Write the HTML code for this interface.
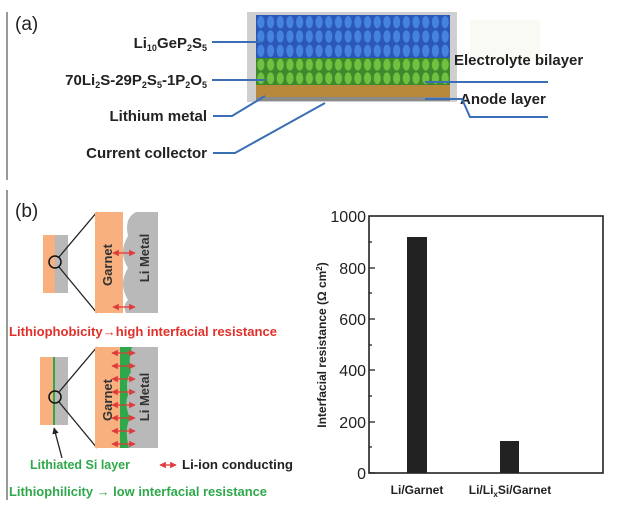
<!DOCTYPE html>
<html><head><meta charset="utf-8"><style>
html,body{margin:0;padding:0;background:#fff;}
svg{display:block;font-family:"Liberation Sans",sans-serif;}
</style></head><body>
<svg width="631" height="514" viewBox="0 0 631 514" xmlns="http://www.w3.org/2000/svg">
<defs>
<pattern id="pb" x="256" y="15" width="9.7" height="14.3" patternUnits="userSpaceOnUse">
<rect width="9.7" height="14.3" fill="#2a57b8"/>
<ellipse cx="4.85" cy="7.15" rx="3.6" ry="6.2" fill="#4682e0"/>
</pattern>
<pattern id="pg" x="256" y="58" width="9.7" height="13.5" patternUnits="userSpaceOnUse">
<rect width="9.7" height="13.5" fill="#3d8a2c"/>
<ellipse cx="4.85" cy="6.75" rx="3.6" ry="5.9" fill="#72c040"/>
</pattern>
<marker id="ah" viewBox="0 0 10 10" refX="9" refY="5" markerWidth="5" markerHeight="5" orient="auto-start-reverse"><path d="M0,0 L10,5 L0,10 z" fill="#e03a3a"/></marker>
<marker id="ak" viewBox="0 0 10 10" refX="9" refY="5" markerWidth="5" markerHeight="5" orient="auto"><path d="M0,0 L10,5 L0,10 z" fill="#222"/></marker>
</defs>

<rect x="6" y="12" width="2" height="168" fill="#999"/>
<rect x="6" y="190" width="2" height="310" fill="#999"/>

<text x="15" y="30" font-size="19" fill="#222">(a)</text>
<rect x="247" y="12" width="210" height="90" fill="#cfcfcf"/>
<rect x="256" y="15" width="194" height="43" fill="url(#pb)"/>
<rect x="256" y="58" width="194" height="27" fill="url(#pg)"/>
<rect x="256" y="85" width="194" height="12" fill="#b8893a"/>
<rect x="256" y="97" width="194" height="4" fill="#8a8a8a"/>
<rect x="470" y="20" width="70" height="40" fill="#fafaf5"/>

<g font-weight="bold" font-size="15" fill="#222" text-anchor="end">
<text x="207" y="48">Li<tspan font-size="9" dy="3">10</tspan><tspan dy="-3">GeP</tspan><tspan font-size="9" dy="3">2</tspan><tspan dy="-3">S</tspan><tspan font-size="9" dy="3">5</tspan></text>
<text x="207" y="85">70Li<tspan font-size="9" dy="3">2</tspan><tspan dy="-3">S-29P</tspan><tspan font-size="9" dy="3">2</tspan><tspan dy="-3">S</tspan><tspan font-size="9" dy="3">5</tspan><tspan dy="-3">-1P</tspan><tspan font-size="9" dy="3">2</tspan><tspan dy="-3">O</tspan><tspan font-size="9" dy="3">5</tspan></text>
<text x="207" y="121">Lithium metal</text>
<text x="207" y="158">Current collector</text>
</g>
<g font-weight="bold" font-size="15" fill="#222">
<text x="454" y="65">Electrolyte bilayer</text>
<text x="460" y="104">Anode layer</text>
</g>
<g stroke="#3a6eb5" stroke-width="2" fill="none">
<line x1="212" y1="42" x2="262" y2="42"/>
<line x1="212" y1="80" x2="265" y2="80"/>
<polyline points="213,116 232,116 265,96"/>
<polyline points="213,153 235,153 325,103"/>
<line x1="425" y1="82" x2="548" y2="82"/>
<polyline points="425,99 462,99 470,117 548,117"/>
</g>

<text x="15" y="217" font-size="19" fill="#222">(b)</text>
<rect x="43" y="235" width="12" height="58" fill="#f7b07e"/>
<rect x="55" y="235" width="13" height="58" fill="#b9b9b9"/>
<circle cx="55" cy="262" r="6" fill="none" stroke="#111" stroke-width="1.5"/>
<line x1="59" y1="257" x2="97" y2="212" stroke="#222" stroke-width="1.3"/>
<line x1="59" y1="267" x2="97" y2="313" stroke="#222" stroke-width="1.3"/>
<rect x="95" y="212" width="28" height="101" fill="#f7b07e"/>
<path d="M158,212 L136,212 Q124,218 128,236 Q118,252 128,268 Q118,284 128,300 Q122,306 126,313 L158,313 Z" fill="#b9b9b9"/>
<text transform="translate(112,265) rotate(-90)" font-size="13" font-weight="bold" fill="#333" text-anchor="middle">Garnet</text>
<text transform="translate(149,258) rotate(-90)" font-size="13" font-weight="bold" fill="#333" text-anchor="middle">Li Metal</text>
<g stroke="#e03a3a" stroke-width="1.3" marker-start="url(#ah)" marker-end="url(#ah)">
<line x1="113" y1="253" x2="135" y2="253"/>
<line x1="113" y1="307" x2="135" y2="307"/>
</g>
<text x="9" y="336" font-size="12.5" font-weight="bold" fill="#e0302a" textLength="268" lengthAdjust="spacingAndGlyphs">Lithiophobicity→high interfacial resistance</text>

<rect x="40" y="357" width="13" height="68" fill="#f7b07e"/>
<rect x="53" y="357" width="2" height="68" fill="#2ea84a"/>
<rect x="55" y="357" width="13" height="68" fill="#b9b9b9"/>
<circle cx="55" cy="397" r="6" fill="none" stroke="#111" stroke-width="1.5"/>
<line x1="59" y1="392" x2="97" y2="347" stroke="#222" stroke-width="1.3"/>
<line x1="59" y1="402" x2="97" y2="448" stroke="#222" stroke-width="1.3"/>
<line x1="62" y1="458" x2="54" y2="428" stroke="#222" stroke-width="1.3" marker-end="url(#ak)"/>
<rect x="95" y="347" width="25" height="101" fill="#f7b07e"/>
<rect x="120" y="347" width="38" height="101" fill="#b9b9b9"/>
<path d="M120,347 L132,347 Q128,360 131,372 Q125,380 128,395 Q124,405 130,418 Q124,430 129,448 L120,448 Z" fill="#2ea84a"/>
<text transform="translate(112,400) rotate(-90)" font-size="13" font-weight="bold" fill="#333" text-anchor="middle">Garnet</text>
<text transform="translate(149,397) rotate(-90)" font-size="13" font-weight="bold" fill="#333" text-anchor="middle">Li Metal</text>
<g stroke="#e03a3a" stroke-width="1.3" marker-start="url(#ah)" marker-end="url(#ah)">
<line x1="112" y1="353" x2="135" y2="353"/>
<line x1="112" y1="366" x2="135" y2="366"/>
<line x1="112" y1="379" x2="135" y2="379"/>
<line x1="112" y1="392" x2="135" y2="392"/>
<line x1="112" y1="405" x2="135" y2="405"/>
<line x1="112" y1="418" x2="135" y2="418"/>
<line x1="112" y1="431" x2="135" y2="431"/>
<line x1="112" y1="444" x2="135" y2="444"/>
<line x1="160" y1="465" x2="176" y2="465"/>
</g>
<text x="30" y="469" font-size="12.5" font-weight="bold" fill="#2ea84a" textLength="100" lengthAdjust="spacingAndGlyphs">Lithiated Si layer</text>
<text x="182" y="469" font-size="12.5" font-weight="bold" fill="#222" textLength="111" lengthAdjust="spacingAndGlyphs">Li-ion conducting</text>
<text x="9" y="496" font-size="12.5" font-weight="bold" fill="#2ea84a" textLength="258" lengthAdjust="spacingAndGlyphs">Lithiophilicity → low interfacial resistance</text>

<rect x="369" y="216" width="234" height="257" fill="none" stroke="#222" stroke-width="1.6"/>
<rect x="407" y="237" width="20" height="236" fill="#222"/>
<rect x="500" y="441" width="19" height="32" fill="#222"/>
<g stroke="#222" stroke-width="1.3">
<line x1="369" y1="473" x2="375" y2="473"/><line x1="369" y1="447" x2="372" y2="447"/>
<line x1="369" y1="422" x2="375" y2="422"/><line x1="369" y1="396" x2="372" y2="396"/>
<line x1="369" y1="370" x2="375" y2="370"/><line x1="369" y1="345" x2="372" y2="345"/>
<line x1="369" y1="319" x2="375" y2="319"/><line x1="369" y1="293" x2="372" y2="293"/>
<line x1="369" y1="268" x2="375" y2="268"/><line x1="369" y1="242" x2="372" y2="242"/>
</g>
<g font-size="16" fill="#222" text-anchor="end">
<text x="366" y="479">0</text>
<text x="366" y="428">200</text>
<text x="366" y="376">400</text>
<text x="366" y="325">600</text>
<text x="366" y="274">800</text>
<text x="366" y="222">1000</text>
</g>
<text transform="translate(326,345) rotate(-90)" font-size="12" font-weight="bold" fill="#222" text-anchor="middle">Interfacial resistance (Ω cm<tspan font-size="8" dy="-4">2</tspan><tspan dy="4">)</tspan></text>
<text x="417" y="494" font-size="12" font-weight="bold" fill="#222" text-anchor="middle">Li/Garnet</text>
<text x="510" y="494" font-size="12" font-weight="bold" fill="#222" text-anchor="middle">Li/Li<tspan font-size="8" dy="3">x</tspan><tspan dy="-3">Si/Garnet</tspan></text>
</svg>
</body></html>
